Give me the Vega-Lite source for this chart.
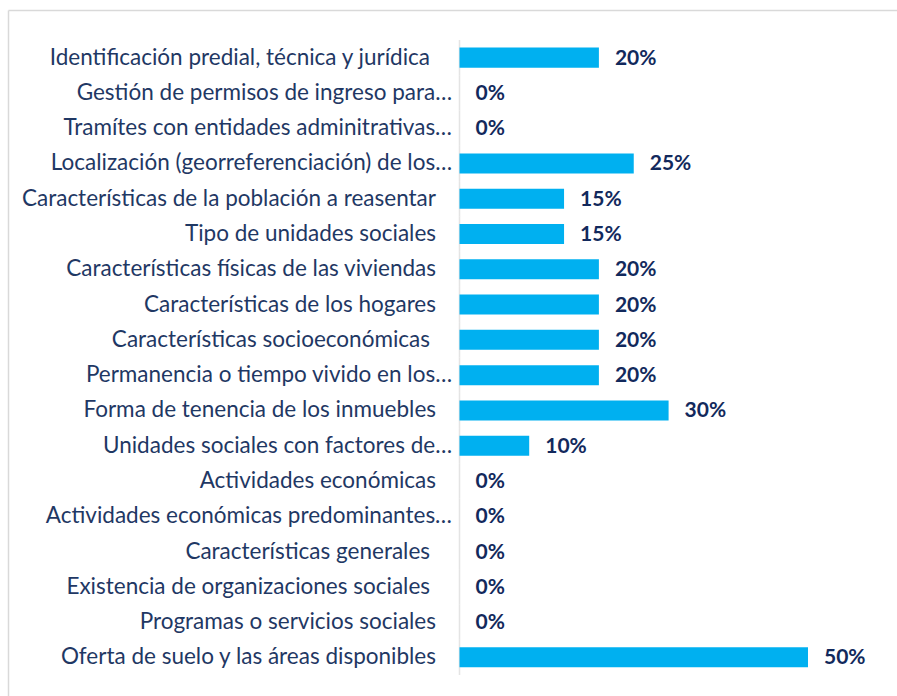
{
  "$schema": "https://vega.github.io/schema/vega-lite/v6.json",
  "width": 889,
  "height": 686,
  "autosize": {"type": "none"},
  "padding": {"left": 8, "top": 10, "right": 0, "bottom": 0},
  "background": "white",
  "config": {"view": {"stroke": null}},
  "data": {
    "values": [
      {"cat": "Identificación predial, técnica y jurídica\u00a0", "value": 0.20},
      {"cat": "Gestión de permisos de ingreso para…", "value": 0.0},
      {"cat": "Tramítes con entidades adminitrativas…", "value": 0.0},
      {"cat": "Localización (georreferenciación) de los…", "value": 0.25},
      {"cat": "Características de la población a reasentar", "value": 0.15},
      {"cat": "Tipo de unidades sociales", "value": 0.15},
      {"cat": "Características físicas de las viviendas", "value": 0.20},
      {"cat": "Características de los hogares", "value": 0.20},
      {"cat": "Características socioeconómicas\u00a0", "value": 0.20},
      {"cat": "Permanencia o tiempo vivido en los…", "value": 0.20},
      {"cat": "Forma de tenencia de los inmuebles", "value": 0.30},
      {"cat": "Unidades sociales con factores de…", "value": 0.10},
      {"cat": "Actividades económicas", "value": 0.0},
      {"cat": "Actividades económicas predominantes…", "value": 0.0},
      {"cat": "Características generales\u00a0", "value": 0.0},
      {"cat": "Existencia de organizaciones sociales\u00a0", "value": 0.0},
      {"cat": "Programas o servicios sociales", "value": 0.0},
      {"cat": "Oferta de suelo y las áreas disponibles", "value": 0.50}
    ]
  },
  "encoding": {
    "y": {
      "field": "cat",
      "type": "nominal",
      "sort": null,
      "scale": {"paddingInner": 0, "paddingOuter": 0.7228, "align": 0.588},
      "axis": {"labels": false, "ticks": false, "title": null, "domainColor": "#D9D9D9", "domainWidth": 1.5, "grid": false}
    }
  },
  "layer": [
    {
      "mark": {"type": "tick", "orient": "vertical", "size": 35.3, "thickness": 1.5, "color": "#D9D9D9"},
      "encoding": {
        "x": {
          "datum": 0,
          "type": "quantitative",
          "scale": {"domain": [-0.6478, 0.6277], "nice": false, "zero": false},
          "axis": {"orient": "top", "labels": false, "ticks": false, "title": null, "grid": false, "domainColor": "#D9D9D9", "domainWidth": 1.5}
        }
      }
    },
    {
      "mark": {"type": "bar", "color": "#00B0F0", "height": {"band": 0.567}},
      "encoding": {
        "x": {"field": "value", "type": "quantitative"}
      }
    },
    {
      "mark": {"type": "text", "align": "left", "baseline": "middle", "dx": 16, "dy": 1, "font": "Lato", "fontSize": 21, "fontWeight": "bold", "color": "#12295C"},
      "encoding": {
        "x": {"field": "value", "type": "quantitative"},
        "text": {"field": "value", "type": "quantitative", "format": ".0%"}
      }
    },
    {
      "transform": [{"filter": "indexof(datum.cat, '…') >= 0"}],
      "mark": {"type": "text", "align": "right", "baseline": "middle", "dx": -7.5, "font": "Lato", "fontSize": 22.5, "color": "#1F3864"},
      "encoding": {
        "x": {"datum": 0, "type": "quantitative"},
        "text": {"field": "cat", "type": "nominal"}
      }
    },
    {
      "transform": [{"filter": "indexof(datum.cat, '\u00a0') >= 0"}],
      "mark": {"type": "text", "align": "right", "baseline": "middle", "dx": -29.5, "font": "Lato", "fontSize": 22.5, "color": "#1F3864"},
      "encoding": {
        "x": {"datum": 0, "type": "quantitative"},
        "text": {"field": "cat", "type": "nominal"}
      }
    },
    {
      "transform": [{"filter": "indexof(datum.cat, '…') < 0 && indexof(datum.cat, '\u00a0') < 0"}],
      "mark": {"type": "text", "align": "right", "baseline": "middle", "dx": -23.5, "font": "Lato", "fontSize": 22.5, "color": "#1F3864"},
      "encoding": {
        "x": {"datum": 0, "type": "quantitative"},
        "text": {"field": "cat", "type": "nominal"}
      }
    }
  ]
}
